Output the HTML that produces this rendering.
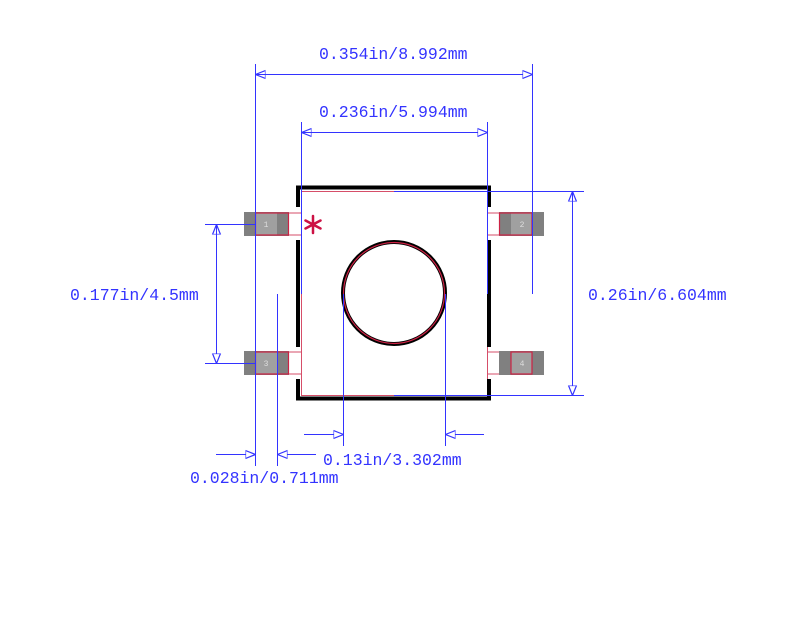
<!DOCTYPE html>
<html><head><meta charset="utf-8"><style>html,body{margin:0;padding:0;background:#fff}svg{display:block}</style></head>
<body>
<svg width="800" height="638" viewBox="0 0 800 638" xmlns="http://www.w3.org/2000/svg">
<defs>
<marker id="a" viewBox="0 0 10 10" refX="10" refY="5" markerWidth="10" markerHeight="10" markerUnits="userSpaceOnUse" orient="auto"><path d="M0,1 L10,5 L0,9 Z" fill="#fff" stroke="#3333ff" stroke-width="1.2"/></marker>
</defs>
<rect width="800" height="638" fill="#fff"/>
<g>
<rect x="244" y="212" width="45" height="24" fill="#808080"/><rect x="255" y="213" width="22" height="22" fill="#a0a0a0"/><rect x="255.5" y="213" width="33" height="22" fill="none" stroke="#cc2244" stroke-width="1.2"/>
<rect x="499" y="212" width="45" height="24" fill="#808080"/><rect x="511" y="213" width="21" height="22" fill="#a0a0a0"/><rect x="499.5" y="213" width="32.5" height="22" fill="none" stroke="#cc2244" stroke-width="1.2"/>
<rect x="244" y="351" width="45" height="24" fill="#808080"/><rect x="255" y="352" width="22" height="22" fill="#a0a0a0"/><rect x="255.5" y="352" width="33" height="22" fill="none" stroke="#cc2244" stroke-width="1.2"/>
<rect x="499" y="351" width="45" height="24" fill="#808080"/><rect x="511" y="352" width="21" height="22" fill="#a0a0a0"/><rect x="511" y="352" width="21" height="22" fill="none" stroke="#cc2244" stroke-width="1.2"/>
<g font-family="Liberation Mono, monospace" font-size="8" fill="#ddd" text-anchor="middle"><text x="266" y="227">1</text><text x="522" y="227">2</text><text x="266" y="366">3</text><text x="522" y="366">4</text></g>
</g>
<g fill="none" stroke="#cc2244" stroke-width="1" opacity="0.8">
<rect x="301.5" y="191.5" width="186" height="204"/>
<path d="M289 213H301M289 235H301M289 352H301M289 374H301M487 213H499M487 235H499M487 352H499M487 374H499"/>
</g>
<g fill="none" stroke="#000" stroke-width="4" stroke-linejoin="miter">
<path d="M298 207V187.5H489V207"/>
<path d="M298 240V347M489 240V347"/>
<path d="M298 379V398.5H489V379"/>
<circle cx="394" cy="293" r="51" stroke-width="4"/>
</g>
<circle cx="394" cy="293" r="50.5" fill="none" stroke="#cc2244" stroke-width="1.2"/>
<g stroke="#cc1144" stroke-width="2.5" stroke-linecap="round">
<path d="M313 216V233M305.5 220.5L320.5 228.5M305.5 228.5L320.5 220.5"/>
</g>
<g stroke="#3333ff" stroke-width="1" fill="none">
<path d="M255.5 64V466M532.5 64V294M301.5 122V294M487.5 122V294M394 191.5H584M394 395.5H584M205 224.5H255M205 363.5H255M277.5 294V466M343.5 294V446M445.5 294V446"/>
<line x1="265" y1="74.5" x2="255.5" y2="74.5" marker-end="url(#a)"/>
<line x1="255.5" y1="74.5" x2="532.5" y2="74.5" marker-end="url(#a)"/>
<line x1="311" y1="132.5" x2="301.5" y2="132.5" marker-end="url(#a)"/>
<line x1="301.5" y1="132.5" x2="487.5" y2="132.5" marker-end="url(#a)"/>
<line x1="572.5" y1="200" x2="572.5" y2="191.5" marker-end="url(#a)"/>
<line x1="572.5" y1="191.5" x2="572.5" y2="395.5" marker-end="url(#a)"/>
<line x1="216.5" y1="234" x2="216.5" y2="224.5" marker-end="url(#a)"/>
<line x1="216.5" y1="224.5" x2="216.5" y2="363.5" marker-end="url(#a)"/>
<line x1="304" y1="434.5" x2="343.5" y2="434.5" marker-end="url(#a)"/>
<line x1="484" y1="434.5" x2="445.5" y2="434.5" marker-end="url(#a)"/>
<line x1="216" y1="454.5" x2="255.5" y2="454.5" marker-end="url(#a)"/>
<line x1="316" y1="454.5" x2="277.5" y2="454.5" marker-end="url(#a)"/>
</g>
<g font-family="Liberation Mono, monospace" font-size="16.5" fill="#3333ff">
<text x="319" y="59">0.354in/8.992mm</text>
<text x="319" y="117">0.236in/5.994mm</text>
<text x="588" y="300">0.26in/6.604mm</text>
<text x="70" y="300">0.177in/4.5mm</text>
<text x="323" y="465">0.13in/3.302mm</text>
<text x="190" y="483">0.028in/0.711mm</text>
</g>
</svg>
</body></html>
